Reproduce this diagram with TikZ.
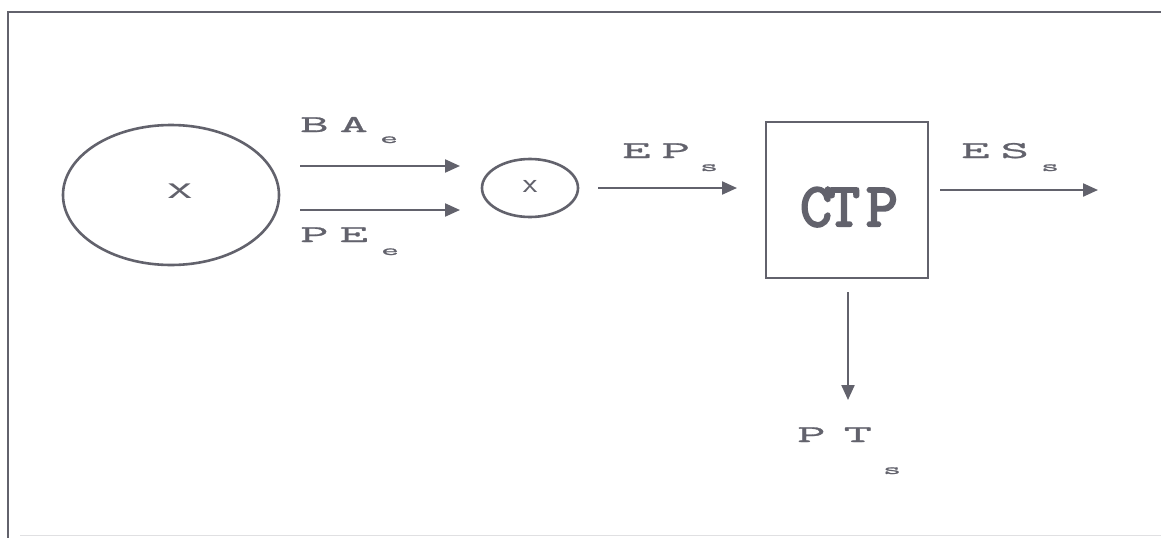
\documentclass[tikz,border=0pt]{standalone}
\usepackage{fontspec}
\usepackage{graphicx}
\usetikzlibrary{shapes.geometric,arrows.meta}
\newfontfamily\labfont[FakeStretch=2.3,FakeBold=1.2]{Latin Modern Mono}
\newfontfamily\ctpfont[FakeBold=3.5]{Latin Modern Mono}
\definecolor{ink}{RGB}{98,98,108}
\tikzset{
  line/.style={draw=ink, line width=2.2pt},
  arr/.style={line, -{Triangle[length=15pt,width=13pt]}},
  lab/.style={text=ink, font=\labfont\fontsize{24}{24}\selectfont, inner sep=0pt, anchor=base west},
  sub/.style={text=ink, font=\labfont\fontsize{15}{15}\selectfont, inner sep=0pt, anchor=base west},
}
\begin{document}
\begin{tikzpicture}[x=1pt,y=-1pt]
\useasboundingbox (0,0) rectangle (1161,538);
\fill[white] (0,0) rectangle (1161,538);
% frame
\draw[line, line width=2pt] (1161,12) -- (8,12) -- (8,538);
\draw[ink!20, line width=1pt] (20,535) -- (1161,535);
% shapes
\node[line, line width=2.6pt, ellipse, minimum width=216pt, minimum height=140pt, inner sep=0pt] (big) at (171,195) {};
\node[text=ink, font=\fontsize{34}{34}\selectfont\sffamily, inner sep=0pt] (bx) at (180,191) {\scalebox{1.6}[1]{x}};
\node[line, line width=2.6pt, ellipse, minimum width=96pt, minimum height=58pt, inner sep=0pt] (sm) at (530,188) {};
\node[text=ink, font=\fontsize{28}{28}\selectfont\sffamily, inner sep=0pt] (sx) at (530,186) {\scalebox{1.2}[1]{x}};
\node[line, line width=2pt, minimum width=162pt, minimum height=156pt, inner sep=0pt] (ctp) at (847,200) {};
\node[text=ink, font=\ctpfont\fontsize{62}{62}\selectfont, inner sep=0pt, anchor=base] (ctpt) at (849,226) {C\kern-4ptT\kern6ptP};
% coordinates for connectors
\coordinate (ba1) at (300,166); \coordinate (ba2) at (460,166);
\coordinate (pe1) at (300,210); \coordinate (pe2) at (460,210);
\coordinate (ep1) at (598,188); \coordinate (ep2) at (737,188);
\coordinate (es1) at (940,190); \coordinate (es2) at (1098,190);
\coordinate (pt1) at (848,292); \coordinate (pt2) at (848,400);
\draw[arr] (ba1) -- (ba2);
\draw[arr] (pe1) -- (pe2);
\draw[arr] (ep1) -- (ep2);
\draw[arr] (es1) -- (es2);
\draw[arr] (pt1) -- (pt2);
% labels
\node[lab] (lba) at (300,132) {B\kern11ptA};
\node[sub] (sba) at (380,143) {e};
\node[lab] (lpe) at (300,242) {P\kern11ptE};
\node[sub] (spe) at (381,255) {e};
\node[lab] (lep) at (622,158) {E\kern11ptP};
\node[sub] (sep) at (700,171) {s};
\node[lab] (les) at (961,158) {E\kern11ptS};
\node[sub] (ses) at (1041,171) {s};
\node[lab] (lpt) at (797,442) {P\kern18ptT};
\node[sub] (spt) at (883,474) {s};
\end{tikzpicture}
\end{document}
